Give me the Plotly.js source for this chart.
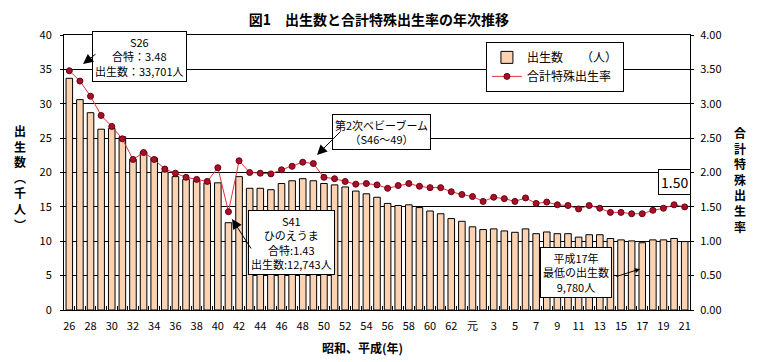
<!DOCTYPE html>
<html><head><meta charset="utf-8">
<script src="https://cdn.plot.ly/plotly-3.0.1.min.js"></script>
<style>html,body{margin:0;padding:0;background:#fff}</style>
</head><body>
<div id="chart" style="width:758px;height:362px"></div>
<script>
const categories = ['昭和26','昭和27','昭和28','昭和29','昭和30','昭和31','昭和32','昭和33','昭和34','昭和35',
  '昭和36','昭和37','昭和38','昭和39','昭和40','昭和41','昭和42','昭和43','昭和44','昭和45',
  '昭和46','昭和47','昭和48','昭和49','昭和50','昭和51','昭和52','昭和53','昭和54','昭和55',
  '昭和56','昭和57','昭和58','昭和59','昭和60','昭和61','昭和62','昭和63',
  '平成元','平成2','平成3','平成4','平成5','平成6','平成7','平成8','平成9','平成10',
  '平成11','平成12','平成13','平成14','平成15','平成16','平成17','平成18','平成19','平成20','平成21'];
const tickLabels = ['26','','28','','30','','32','','34','','36','','38','','40','','42','','44','','46','','48','','50','','52','','54','','56','','58','','60','','62','','元','','3','','5','','7','','9','','11','','13','','15','','17','','19','','21'];
const births = [33.7,30.6,28.7,26.3,26.4,25.2,21.9,23.0,22.1,20.1,
  19.4,19.0,18.8,18.5,18.5,12.7,19.4,17.7,17.7,17.5,
  18.4,18.8,19.1,18.8,18.4,18.2,17.9,17.3,16.9,16.4,
  15.5,15.2,15.3,14.9,14.4,14.0,13.3,12.9,
  12.1,11.7,11.8,11.5,11.3,11.8,11.1,11.35,11.1,11.1,
  10.6,10.95,10.95,10.4,10.2,10.05,9.78,10.2,10.2,10.4,9.95];
const tfr = [3.48,3.33,3.11,2.83,2.67,2.49,2.19,2.29,2.19,2.05,
  1.99,1.93,1.90,1.87,2.07,1.43,2.17,2.00,1.99,1.98,
  2.04,2.09,2.15,2.13,1.93,1.91,1.87,1.83,1.84,1.82,
  1.77,1.81,1.84,1.80,1.78,1.78,1.72,1.68,
  1.65,1.58,1.64,1.62,1.58,1.63,1.55,1.57,1.53,1.52,
  1.47,1.52,1.48,1.42,1.42,1.40,1.40,1.45,1.48,1.53,1.50];

const F = '"Noto Sans CJK JP", "Noto Sans", sans-serif';

const traces = [
  {type:'bar', x:categories, y:births, name:'出生数　　（人）',
   marker:{color:'#FCD3B2', line:{color:'#000', width:1}}, yaxis:'y', hoverinfo:'x+y'},
  {type:'scatter', mode:'lines+markers', x:categories, y:tfr, name:'合計特殊出生率', yaxis:'y2',
   line:{color:'#E8303A', width:1},
   marker:{size:6, color:'#A8102A', line:{color:'#6A0010', width:1}}}
];

function box(text, x, y, size){
  return {text:text, xref:'paper', yref:'paper', x:x, y:y, xanchor:'center', yanchor:'middle',
    showarrow:false, font:{family:F, size:size||11, color:'#000'}, bgcolor:'#fff', bordercolor:'#000',
    borderwidth:1, borderpad:2, align:'center'};
}
function arrow(x, y, ax, ay, head, size){
  return {text:'', xref:'paper', yref:'paper', x:x, y:y, ax:ax, ay:ay, showarrow:true,
    xanchor:'center', yanchor:'middle',
    arrowhead:head, arrowsize:size, arrowwidth:1, arrowcolor:'#000', standoff:0, startstandoff:0};
}
function label(text, x, y){
  return {text:text, xref:'paper', yref:'paper', x:x, y:y, xanchor:'center', yanchor:'middle',
    showarrow:false, font:{family:F, size:12, color:'#000'}};
}

const layout = {
  width:758, height:362,
  margin:{l:64, r:68, t:35, b:52},
  paper_bgcolor:'#fff', plot_bgcolor:'#fff',
  font:{family:F, size:11, color:'#000'},
  showlegend:true,
  bargap:0.38,
  title:{text:'<b>図1　出生数と合計特殊出生率の年次推移</b>', font:{family:F, size:14, color:'#000'},
    x:0.5, xref:'container', xanchor:'center', y:0.945, yref:'container', yanchor:'middle'},
  xaxis:{type:'category', range:[-0.5,58.5], tickmode:'array', tickvals:categories, ticktext:tickLabels,
    tickson:'boundaries', ticks:'inside', ticklen:4, tickcolor:'#000', showgrid:false,
    showline:true, linecolor:'#000', linewidth:1, mirror:true, tickangle:0,
    tickfont:{family:F, size:11}, ticklabelstandoff:6},
  yaxis:{range:[0,40], dtick:5, tick0:0, showgrid:true, gridcolor:'#000', gridwidth:1,
    showline:true, linecolor:'#000', linewidth:1, mirror:true, ticks:'outside', ticklen:3,
    tickcolor:'#000', zeroline:false, tickfont:{family:F, size:11}, ticklabelstandoff:6},
  yaxis2:{range:[0,4], dtick:0.5, tick0:0, tickformat:'.2f', overlaying:'y', side:'right',
    showgrid:false, showline:true, linecolor:'#000', linewidth:1, ticks:'outside', ticklen:3,
    tickcolor:'#000', zeroline:false, tickfont:{family:F, size:11}, ticklabelstandoff:4},
  legend:{x:0.674, y:0.975, xanchor:'left', yanchor:'top', bgcolor:'#fff', bordercolor:'#000',
    borderwidth:1, font:{family:F, size:12, color:'#000'}},
  annotations:[
    box('S26<br>合特：3.48<br>出生数：33,701人', 0.1214, 0.9218, 11),
    box('第2次ベビーブーム<br>（S46～49）', 0.5064, 0.6473, 11),
    box('S41<br>ひのえうま<br>合特:1.43<br>出生数:12,743人', 0.3634, 0.2455, 11),
    box('平成17年<br>最低の出生数<br>9,780人', 0.8179, 0.1364, 11),
    box('1.50', 0.976, 0.4655, 14),
    arrow(0.0304, 0.8945, 14, -11, 2, 2),
    arrow(0.4042, 0.5636, 25, -25, 2, 2),
    arrow(0.2684, 0.3309, 20, 31, 2, 2),
    arrow(0.9201, 0.1491, -25, 8, 2, 1),
    label('<b>出<br>生<br>数<br>︵<br>千<br>人<br>︶</b>', -0.0703, 0.4836),
    label('<b>合<br>計<br>特<br>殊<br>出<br>生<br>率</b>', 1.0799, 0.476),
    label('<b>昭和、平成(年)</b>', 0.4776, -0.138)
  ]
};

Plotly.newPlot('chart', traces, layout, {displayModeBar:false, staticPlot:true});
</script>
</body></html>
